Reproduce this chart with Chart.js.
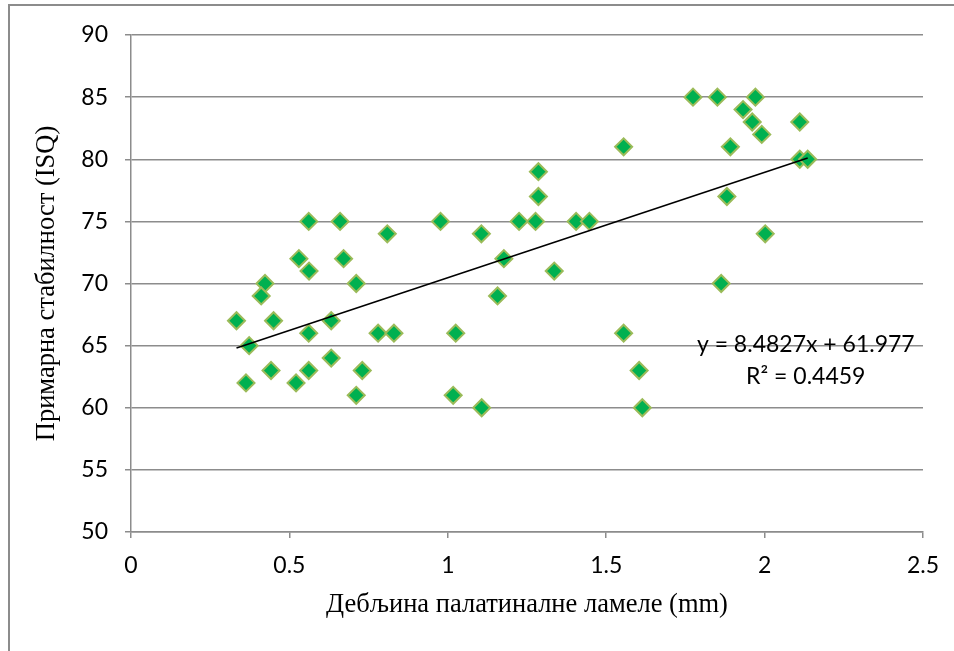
<!DOCTYPE html>
<html lang="sr">
<head>
    <meta charset="UTF-8">
    <title>Примарна стабилност</title>
    <script src="https://cdn.jsdelivr.net/npm/chart.js"></script>
    <style>
        body { margin: 0; background: #fff; }
        .wrap { position: relative; width: 954px; height: 651px; }
        .frame {
            position: absolute; left: 8px; top: 4px; right: 0; bottom: -10px;
            border-left: 2px solid #8c8c8c; border-top: 2px solid #8c8c8c;
            pointer-events: none;
        }
    </style>
</head>
<body>
    <div class="wrap">
        <canvas id="chart" width="954" height="651"></canvas>
        <div class="frame"></div>
    </div>
    <script>
        // Thickness of palatal lamella (mm) vs primary stability (ISQ)
        const thickness = [
            0.561, 0.660, 0.977, 0.809, 0.530, 0.671, 0.562, 0.423, 0.711, 0.411,
            0.333, 0.450, 0.632, 0.561, 0.780, 0.830, 1.025, 0.373, 0.632, 0.442,
            0.561, 0.730, 0.363, 0.521, 0.711, 1.017, 1.555, 1.286, 1.286, 1.225,
            1.277, 1.405, 1.447, 1.106, 1.177, 1.336, 1.157, 1.555, 1.604, 1.107,
            1.614, 1.774, 1.851, 1.971, 1.932, 1.961, 2.111, 1.991, 1.892, 2.111,
            2.136, 1.881, 2.002, 1.863
        ];
        const isq = [
            75, 75, 75, 74, 72, 72, 71, 70, 70, 69,
            67, 67, 67, 66, 66, 66, 66, 65, 64, 63,
            63, 63, 62, 62, 61, 61, 81, 79, 77, 75,
            75, 75, 75, 74, 72, 71, 69, 66, 63, 60,
            60, 85, 85, 85, 84, 83, 83, 82, 81, 80,
            80, 77, 74, 70
        ];

        // linear trendline as printed on the chart
        const slope = 8.4827;
        const intercept = 61.977;
        const equationText = ["y = 8.4827x + 61.977", "R² = 0.4459"];
        const equationAt = [2.13, 65.1];

        const points = thickness.map((x, i) => ({ x: x, y: isq[i] }));
        const xMin = Math.min(...thickness);
        const xMax = Math.max(...thickness);
        const trend = [xMin, xMax].map((x) => ({ x: x, y: slope * x + intercept }));

        const gridColor = "#8c8c8c";
        const tickFont = { family: "Lato", size: 23 };
        const titleFont = { family: "Liberation Serif", size: 26.5 };

        // draw the equation label
        const equationLabel = {
            id: "equationLabel",
            afterDatasetsDraw(chart) {
                const ctx = chart.ctx;
                const cx = chart.scales.x.getPixelForValue(equationAt[0]);
                const cy = chart.scales.y.getPixelForValue(equationAt[1]);
                ctx.save();
                ctx.font = "23px Lato";
                ctx.fillStyle = "#000";
                ctx.textAlign = "center";
                ctx.textBaseline = "middle";
                ctx.fillText(equationText[0], cx, cy);
                ctx.fillText(equationText[1], cx, cy + 32);
                ctx.restore();
            }
        };

        new Chart(document.getElementById("chart"), {
            type: "scatter",
            data: {
                datasets: [
                    {
                        type: "line",
                        data: trend,
                        borderColor: "#000",
                        borderWidth: 1.6,
                        pointRadius: 0,
                        fill: false
                    },
                    {
                        data: points,
                        pointStyle: "rectRot",
                        pointRadius: 8.5,
                        pointBorderWidth: 2,
                        backgroundColor: "#00b050",
                        borderColor: "#9bbb59"
                    }
                ]
            },
            options: {
                responsive: false,
                animation: false,
                layout: { padding: { left: 0, top: 35, right: 31, bottom: 0 } },
                plugins: { legend: { display: false }, tooltip: { enabled: false } },
                scales: {
                    x: {
                        type: "linear",
                        min: 0,
                        max: 2.5,
                        ticks: {
                            stepSize: 0.5, color: "#000", font: tickFont, padding: 14, maxRotation: 0,
                            callback: (v) => String(v)
                        },
                        grid: { drawOnChartArea: false, tickLength: 6, color: gridColor, lineWidth: 1.5 },
                        border: { color: gridColor, width: 1.5 },
                        title: {
                            display: true,
                            text: "Дебљина палатиналне ламеле (mm)",
                            color: "#000",
                            font: titleFont,
                            padding: { top: 0, bottom: 30 }
                        },
                        afterFit: (scale) => { scale.height = 119; }
                    },
                    y: {
                        min: 50,
                        max: 90,
                        ticks: { stepSize: 5, color: "#000", font: tickFont, padding: 17 },
                        grid: { tickLength: 6, color: gridColor, lineWidth: 1.5 },
                        border: { color: gridColor, width: 1.5 },
                        title: {
                            display: true,
                            text: "Примарна стабилност (ISQ)",
                            color: "#000",
                            font: titleFont,
                            padding: { top: 31, bottom: 0 }
                        },
                        afterFit: (scale) => { scale.width = 131; }
                    }
                }
            },
            plugins: [equationLabel]
        });
    </script>
</body>
</html>
